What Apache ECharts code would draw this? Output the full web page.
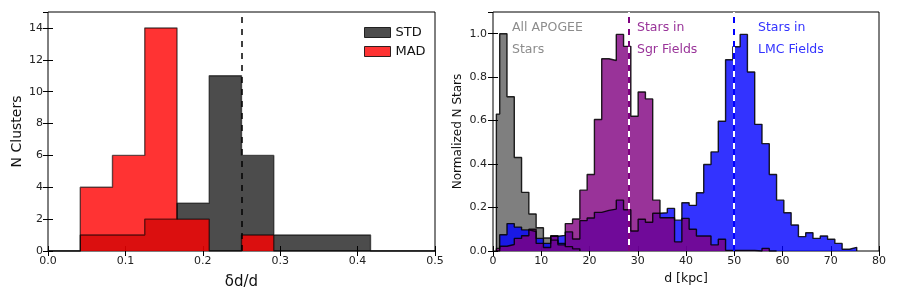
<!DOCTYPE html>
<html>
<head>
<meta charset="utf-8">
<script src="https://cdn.jsdelivr.net/npm/echarts@6/dist/echarts.min.js"></script>
<style>html,body{margin:0;padding:0;background:#fff;}#c{width:897px;height:299px;}</style>
</head>
<body>
<div id="c"></div>
<script>
// ---------- Left panel: delta d / d histograms ----------
const leftEdges = [0, 0.0417, 0.0833, 0.125, 0.1667, 0.2083, 0.25, 0.2917, 0.3333, 0.375, 0.4167, 0.4583, 0.5];
const stdCounts = [0, 1, 1, 2, 3, 11, 6, 1, 1, 1, 0, 0];
const madCounts = [0, 4, 6, 14, 2, 0, 1, 0, 0, 0, 0, 0];
const leftXTicks = [0, 0.1, 0.2, 0.3, 0.4, 0.5];
const leftCut = 0.25;

// ---------- Right panel: distance histograms ----------
const distLeadEdge = 0.7;      // first (partial) bin start
const distBinStart = 1.39;     // regular bin grid start (kpc)
const distBinWidth = 1.51;     // kpc
const grayAll = [0.63, 1.0, 0.71, 0.43, 0.27, 0.17, 0.107, 0.06, 0.05, 0.035, 0.02, 0.01];
const blueLMC = [0, 0.075, 0.126, 0.11, 0.097, 0.09, 0.058, 0.035, 0.068, 0.072, 0.088,
  0.055, 0.14, 0.152, 0.178, 0.187, 0.193, 0.234, 0.19, 0.092, 0.146,
  0.132, 0.174, 0.176, 0.196, 0.142, 0.222, 0.21, 0.268, 0.398, 0.456,
  0.597, 0.88, 0.94, 0.997, 0.824, 0.583, 0.494, 0.352, 0.234, 0.176,
  0.12, 0.066, 0.084, 0.058, 0.069, 0.054, 0.035, 0.008, 0.017];
const purpleSgr = [0.012, 0.022, 0.03, 0.058, 0.07, 0.1, 0.035, 0.016, 0.07, 0.028, 0.126,
  0.147, 0.28, 0.352, 0.605, 0.885, 0.877, 0.997, 0.942, 0.62, 0.732,
  0.70, 0.234, 0.153, 0.153, 0.042, 0.15, 0.1, 0.069, 0.069, 0.028,
  0.054, 0.003, 0.003, 0.003, 0.003, 0, 0.012, 0];
const sgrDistance = 28.1;
const lmcDistance = 49.8;

const FONT = 'DejaVu Sans';

function distEdges(n) {
  const e = [distLeadEdge];
  for (let k = 0; k < n; k++) e.push(+(distBinStart + distBinWidth * k).toFixed(3));
  return e;
}
function stepData(edges, heights) {
  const pts = [[edges[0], 0]];
  for (let i = 0; i < heights.length; i++) pts.push([edges[i], heights[i]]);
  pts.push([edges[heights.length], 0]);
  return pts;
}
function hist(name, xi, yi, edges, h, fill, edge) {
  return {
    name: name, type: 'line', xAxisIndex: xi, yAxisIndex: yi, step: 'end',
    symbol: 'none', silent: true, data: stepData(edges, h),
    itemStyle: { color: fill },
    lineStyle: { color: edge, width: 1.4 },
    areaStyle: { color: fill, opacity: 1 }
  };
}

const tickStyle = { inside: true, length: 5, lineStyle: { color: '#000', width: 1 } };
const labStyle = { color: '#222', fontSize: 11, fontFamily: FONT };

function axisPair(kind, gridIndex, min, max, interval, fmt, labelMargin, extra) {
  const main = Object.assign({
    type: 'value', gridIndex: gridIndex, min: min, max: max, interval: interval,
    axisLine: { show: false }, splitLine: { show: false },
    axisTick: tickStyle,
    axisLabel: Object.assign({ formatter: fmt, margin: labelMargin, showMaxLabel: kind === 'x' }, labStyle)
  }, extra || {});
  const mirror = {
    type: 'value', gridIndex: gridIndex, min: min, max: max, interval: interval,
    position: kind === 'x' ? 'top' : 'right',
    axisLine: { show: false }, splitLine: { show: false },
    axisTick: tickStyle, axisLabel: { show: false }
  };
  return [main, mirror];
}

const lx = axisPair('x', 0, 0, 0.5, 0.1, v => v.toFixed(1), 5, {
  name: 'δd/d', nameLocation: 'middle', nameGap: 24,
  nameTextStyle: { fontSize: 15, fontFamily: FONT, color: '#111' }
});
const ly = axisPair('y', 0, 0, 15, 2, v => String(v), 5, {
  name: 'N Clusters', nameLocation: 'middle', nameGap: 24,
  nameTextStyle: { fontSize: 14, fontFamily: FONT, color: '#111' }
});
const rx = axisPair('x', 1, 0, 80, 10, v => String(v), 5, {
  name: 'd [kpc]', nameLocation: 'middle', nameGap: 21,
  nameTextStyle: { fontSize: 12.5, fontFamily: FONT, color: '#111' }
});
const ry = axisPair('y', 1, 0, 1.1, 0.2, v => v.toFixed(1), 6, {
  name: 'Normalized N Stars', nameLocation: 'middle', nameGap: 29,
  nameTextStyle: { fontSize: 12, fontFamily: FONT, color: '#111' }
});

const dEdges = distEdges(60);

const chart = echarts.init(document.getElementById('c'), null, { renderer: 'canvas' });
chart.setOption({
  animation: false,
  backgroundColor: '#fff',
  grid: [
    { left: 48, top: 12, width: 387, height: 239, show: true, borderColor: '#000', borderWidth: 1, backgroundColor: 'transparent' },
    { left: 493, top: 12, width: 386, height: 239, show: true, borderColor: '#000', borderWidth: 1, backgroundColor: 'transparent' }
  ],
  xAxis: [lx[0], lx[1], rx[0], rx[1]],
  yAxis: [ly[0], ly[1], ry[0], ry[1]],
  legend: {
    orient: 'vertical', left: 359, top: 21, itemWidth: 26, itemHeight: 10, itemGap: 6,
    textStyle: { fontSize: 13, fontFamily: FONT, color: '#111' },
    selectedMode: false,
    data: [
      { name: 'STD', icon: 'rect', itemStyle: { color: 'rgba(0,0,0,0.7)', borderColor: 'rgba(0,0,0,0.8)', borderWidth: 1 } },
      { name: 'MAD', icon: 'rect', itemStyle: { color: 'rgba(255,0,0,0.8)', borderColor: 'rgba(0,0,0,0.8)', borderWidth: 1 } }
    ]
  },
  series: [
    hist('STD', 0, 0, leftEdges, stdCounts, 'rgba(0,0,0,0.7)', 'rgba(0,0,0,0.6)'),
    hist('MAD', 0, 0, leftEdges, madCounts, 'rgba(255,0,0,0.8)', 'rgba(0,0,0,0.6)'),
    {
      name: 'cutL', type: 'line', xAxisIndex: 0, yAxisIndex: 0, data: [], silent: true,
      markLine: {
        silent: true, symbol: 'none', label: { show: false }, animation: false,
        lineStyle: { color: '#000', type: [6, 6], width: 1.5 },
        data: [{ xAxis: leftCut }]
      }
    },
    hist('All APOGEE', 2, 2, dEdges, grayAll, 'rgba(0,0,0,0.5)', 'rgba(0,0,0,0.85)'),
    hist('LMC', 2, 2, dEdges, blueLMC, 'rgba(0,0,255,0.8)', 'rgba(0,0,0,0.85)'),
    hist('Sgr', 2, 2, dEdges, purpleSgr, 'rgba(128,0,128,0.8)', 'rgba(0,0,0,0.85)'),
    {
      name: 'cutR', type: 'line', xAxisIndex: 2, yAxisIndex: 2, data: [], silent: true,
      markLine: {
        silent: true, symbol: 'none', label: { show: false }, animation: false,
        data: [
          { xAxis: sgrDistance, lineStyle: { color: '#800080', type: [6, 6], width: 2 } },
          { xAxis: sgrDistance, lineStyle: { color: '#fff', type: [6, 6], dashOffset: 6, width: 2 } },
          { xAxis: lmcDistance, lineStyle: { color: '#0000ff', type: [6, 6], width: 2 } },
          { xAxis: lmcDistance, lineStyle: { color: '#fff', type: [6, 6], dashOffset: 6, width: 2 } }
        ]
      }
    }
  ],
  graphic: [
    { type: 'text', left: 512, top: 21, style: { text: 'All APOGEE', fill: '#8c8c8c', fontSize: 12.5, fontFamily: FONT } },
    { type: 'text', left: 512, top: 43, style: { text: 'Stars', fill: '#8c8c8c', fontSize: 12.5, fontFamily: FONT } },
    { type: 'text', left: 637, top: 21, style: { text: 'Stars in', fill: '#993399', fontSize: 12.5, fontFamily: FONT } },
    { type: 'text', left: 637, top: 43, style: { text: 'Sgr Fields', fill: '#993399', fontSize: 12.5, fontFamily: FONT } },
    { type: 'text', left: 758, top: 21, style: { text: 'Stars in', fill: '#3333ff', fontSize: 12.5, fontFamily: FONT } },
    { type: 'text', left: 758, top: 43, style: { text: 'LMC Fields', fill: '#3333ff', fontSize: 12.5, fontFamily: FONT } }
  ]
});
</script>
</body>
</html>
